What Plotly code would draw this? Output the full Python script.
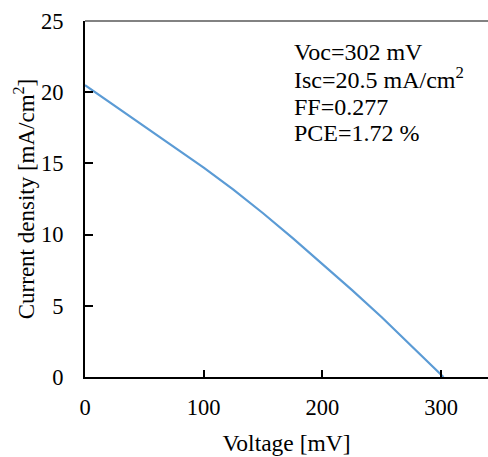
import plotly.graph_objects as go

voltage_mV = [0, 25, 50, 75, 100, 125, 150, 175, 200, 225, 250, 275, 302]
current_density = [20.5, 19.05, 17.6, 16.15, 14.7, 13.15, 11.5, 9.75, 7.95, 6.1, 4.2, 2.2, 0.0]

x_ticks = [0, 100, 200, 300]
y_ticks = [0, 5, 10, 15, 20, 25]

info_lines = ["Voc=302 mV", "Isc=20.5 mA/cm<sup>2</sup>", "FF=0.277", "PCE=1.72 %"]
info_y = [0.913, 0.840, 0.758, 0.685]

FONT = "Liberation Serif"

fig = go.Figure()
fig.add_trace(go.Scatter(x=voltage_mV, y=current_density, mode="lines",
                         line=dict(color="#5B9BD5", width=2.2),
                         showlegend=False))

for t, yy in zip(info_lines, info_y):
    fig.add_annotation(text=t, xref="paper", yref="paper", x=0.514, y=yy,
                       xanchor="left", yanchor="middle", showarrow=False,
                       font=dict(family=FONT, size=24, color="black"))

fig.add_shape(type="line", xref="paper", yref="paper", x0=0, x1=1, y0=1, y1=1,
              line=dict(color="#595959", width=1.5))

fig.update_layout(
    width=488, height=457,
    margin=dict(l=85, r=0, t=21, b=80),
    paper_bgcolor="white", plot_bgcolor="white",
    font=dict(family=FONT, size=22, color="black"),
    xaxis=dict(range=[0, 339.5], tickvals=x_ticks, ticks="inside", ticklen=7,
               tickwidth=1.5, tickcolor="black", showline=True, linecolor="black",
               linewidth=2, showgrid=False, zeroline=False,
               ticklabelstandoff=9, tickfont=dict(family=FONT, size=22.5),
               title=dict(text="Voltage [mV]", standoff=16,
                          font=dict(family=FONT, size=23.5))),
    yaxis=dict(range=[0, 25], tickvals=y_ticks, ticks="inside", ticklen=8,
               tickwidth=1.5, tickcolor="black", showline=True, linecolor="black",
               linewidth=2, showgrid=False, zeroline=False,
               ticklabelstandoff=15, tickfont=dict(family=FONT, size=22.5),
               title=dict(text="Current density [mA/cm<sup>2</sup>]", standoff=0,
                          font=dict(family=FONT, size=23))),
)

fig.write_html("out.html")
